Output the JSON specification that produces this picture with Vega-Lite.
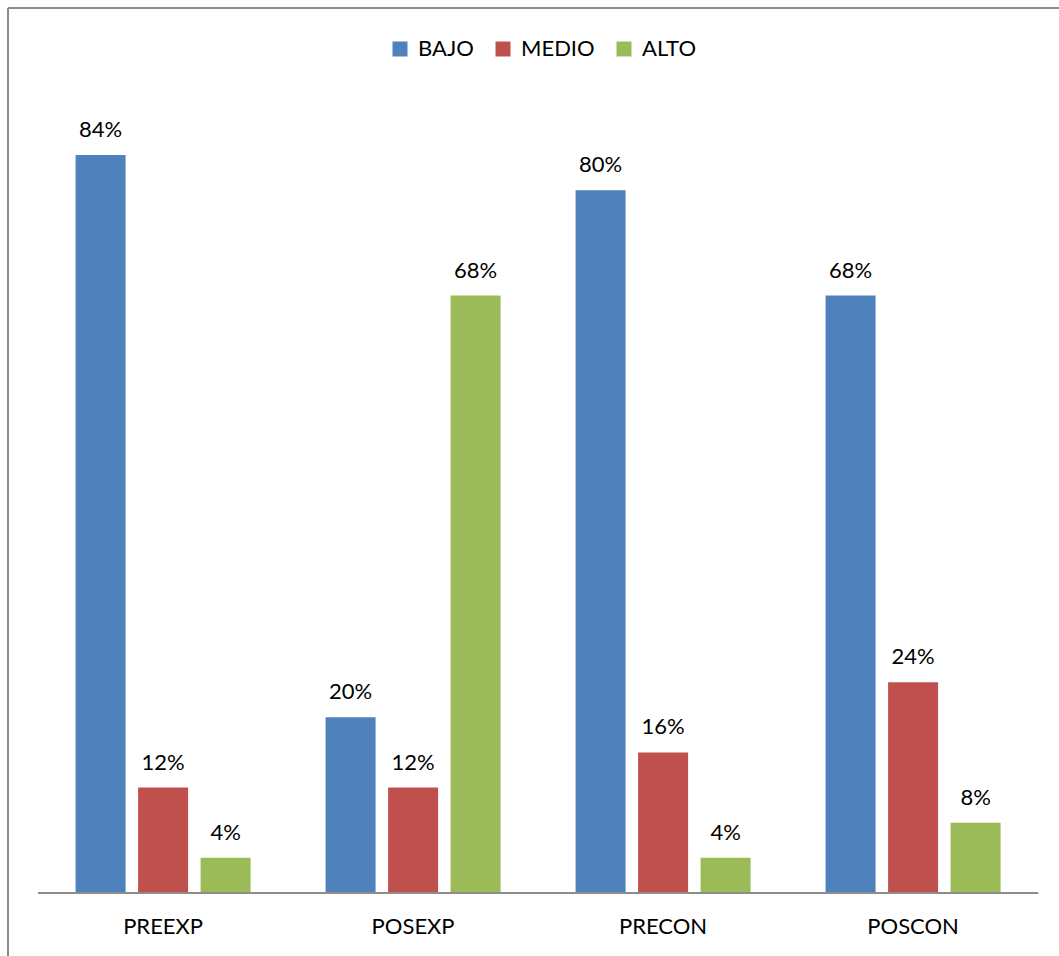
{
  "$schema": "https://vega.github.io/schema/vega-lite/v6.json",
  "width": 1051,
  "height": 948,
  "padding": {"left": 8, "top": 8, "right": 0, "bottom": 0},
  "autosize": {"type": "none"},
  "background": "white",
  "config": {
    "view": {"stroke": "#8c8c8c", "strokeWidth": 2, "strokeDash": [1051, 1999, 948, 0]},
    "font": "Lato"
  },
  "data": {
    "values": [
      {"group": "PREEXP", "level": "BAJO", "value": 0.84},
      {"group": "PREEXP", "level": "MEDIO", "value": 0.12},
      {"group": "PREEXP", "level": "ALTO", "value": 0.04},
      {"group": "POSEXP", "level": "BAJO", "value": 0.20},
      {"group": "POSEXP", "level": "MEDIO", "value": 0.12},
      {"group": "POSEXP", "level": "ALTO", "value": 0.68},
      {"group": "PRECON", "level": "BAJO", "value": 0.80},
      {"group": "PRECON", "level": "MEDIO", "value": 0.16},
      {"group": "PRECON", "level": "ALTO", "value": 0.04},
      {"group": "POSCON", "level": "BAJO", "value": 0.68},
      {"group": "POSCON", "level": "MEDIO", "value": 0.24},
      {"group": "POSCON", "level": "ALTO", "value": 0.08}
    ]
  },
  "encoding": {
    "x": {
      "field": "group",
      "type": "nominal",
      "sort": ["PREEXP", "POSEXP", "PRECON", "POSCON"],
      "scale": {"paddingInner": 0, "paddingOuter": 0.102, "align": 0.59},
      "axis": {
        "title": null,
        "domain": false,
        "ticks": false,
        "grid": false,
        "labelAngle": 0,
        "labelFontSize": 22,
        "labelColor": "black",
        "labelPadding": 23,
        "offset": -63
      }
    }
  },
  "layer": [
    {
      "mark": {"type": "bar"},
      "encoding": {
        "xOffset": {
          "field": "level",
          "type": "nominal",
          "sort": ["BAJO", "MEDIO", "ALTO"],
          "scale": {"paddingInner": 0.2, "paddingOuter": 0.6}
        },
        "y": {
          "field": "value",
          "type": "quantitative",
          "scale": {"domain": [-0.0717, 1.0073], "nice": false, "zero": false},
          "axis": null
        },
        "y2": {"datum": 0},
        "color": {
          "field": "level",
          "type": "nominal",
          "scale": {"domain": ["BAJO", "MEDIO", "ALTO"], "range": ["#4F81BD", "#C0504D", "#9BBB59"]},
          "legend": {
            "orient": "none",
            "legendX": 381,
            "legendY": 30,
            "direction": "horizontal",
            "title": null,
            "symbolType": "square",
            "symbolSize": 225,
            "symbolStrokeWidth": 0,
            "labelFontSize": 22,
            "labelColor": "black",
            "labelOffset": 7,
            "columnPadding": 18,
            "padding": 0
          }
        }
      }
    },
    {
      "mark": {"type": "text", "baseline": "alphabetic", "dy": -18, "fontSize": 22, "color": "black"},
      "encoding": {
        "xOffset": {
          "field": "level",
          "type": "nominal",
          "sort": ["BAJO", "MEDIO", "ALTO"],
          "scale": {"paddingInner": 0.2, "paddingOuter": 0.6}
        },
        "y": {"field": "value", "type": "quantitative"},
        "text": {"field": "value", "type": "quantitative", "format": ".0%"}
      }
    },
    {
      "mark": {"type": "tick", "size": 250, "thickness": 2, "color": "#8c8c8c", "opacity": 1},
      "encoding": {
        "y": {"datum": 0}
      }
    }
  ]
}
